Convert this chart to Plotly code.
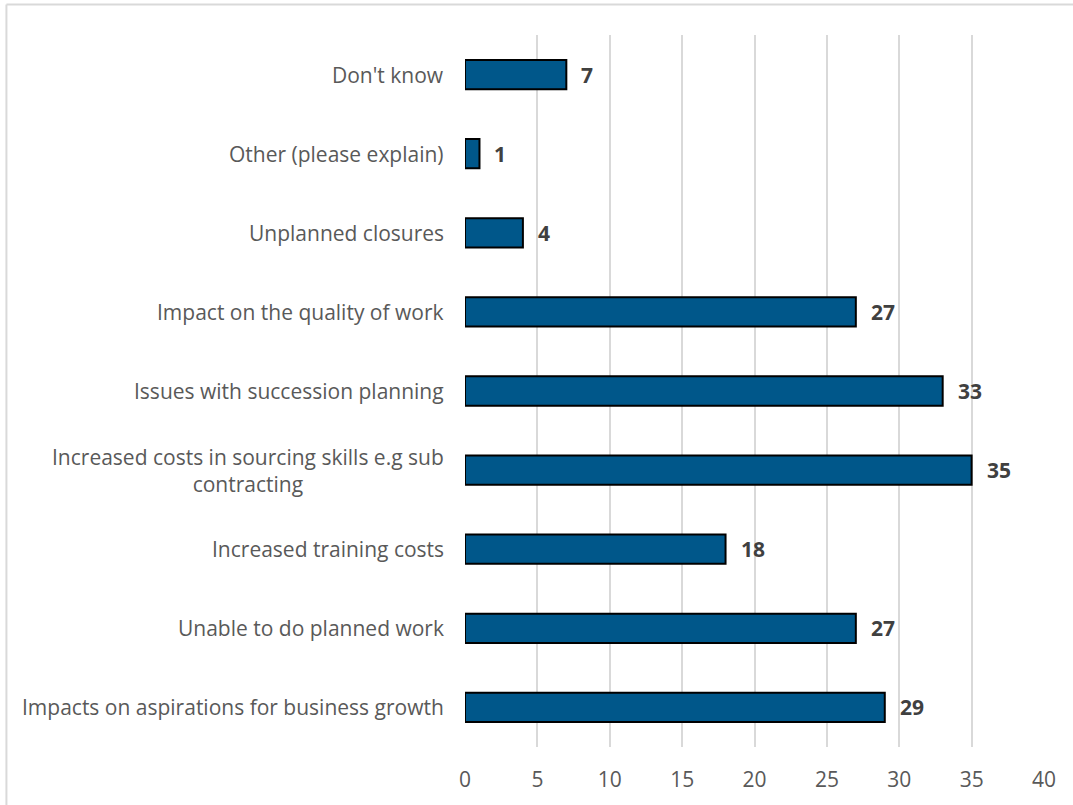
import plotly.graph_objects as go

# Survey responses: consequences of skills shortages
categories = [
    "Impacts on aspirations for business growth",
    "Unable to do planned work",
    "Increased training costs",
    "Increased costs in sourcing skills e.g sub<br>contracting",
    "Issues with succession planning",
    "Impact on the quality of work",
    "Unplanned closures",
    "Other (please explain)",
    "Don't know",
]
counts = [29, 27, 18, 35, 33, 27, 4, 1, 7]
x_ticks = [0, 5, 10, 15, 20, 25, 30, 35, 40]

FONT = "Open Sans"
GREY = "#595959"
SIZE = 21

fig = go.Figure()
fig.add_trace(go.Bar(
    x=counts,
    y=categories,
    orientation="h",
    marker=dict(color="#00578A", line=dict(color="#000000", width=2)),
    hoverinfo="x+y",
))

# value labels beside each bar
for c, v in zip(categories, counts):
    fig.add_annotation(
        x=v, y=c, text=f"<b>{v}</b>", showarrow=False,
        xanchor="left", xshift=13,
        font=dict(family=FONT, size=SIZE, color="#404040"),
    )

# category labels, centred line by line when wrapped
for c in categories:
    fig.add_annotation(
        x=0, y=c, xref="x", yref="y", text=c, showarrow=False,
        xanchor="right", align="center", xshift=-19,
        font=dict(family=FONT, size=SIZE, color=GREY),
    )

# light frame around the chart area
frame = dict(type="line", xref="paper", yref="paper",
             line=dict(color="#d9d9d9", width=2))
fig.add_shape(**frame, x0=-0.792, x1=-0.792, y0=1.043, y1=-0.2)
fig.add_shape(**frame, x0=-0.792, x1=1.2, y0=1.043, y1=1.043)

fig.update_layout(
    width=1073, height=805,
    margin=dict(l=465, r=29, t=35, b=58),
    paper_bgcolor="white", plot_bgcolor="white",
    bargap=0.63,
    showlegend=False,
    font=dict(family=FONT, size=SIZE, color=GREY),
)
fig.update_xaxes(
    range=[0, 40], tickvals=x_ticks, showgrid=True,
    gridcolor="#d9d9d9", gridwidth=2, zeroline=False,
    showline=False, ticks="", ticklabelstandoff=18,
    tickfont=dict(family=FONT, size=SIZE, color=GREY),
)
fig.update_yaxes(
    showgrid=False, zeroline=False, showline=False, ticks="",
    showticklabels=False,
)

fig.write_html("out.html")
